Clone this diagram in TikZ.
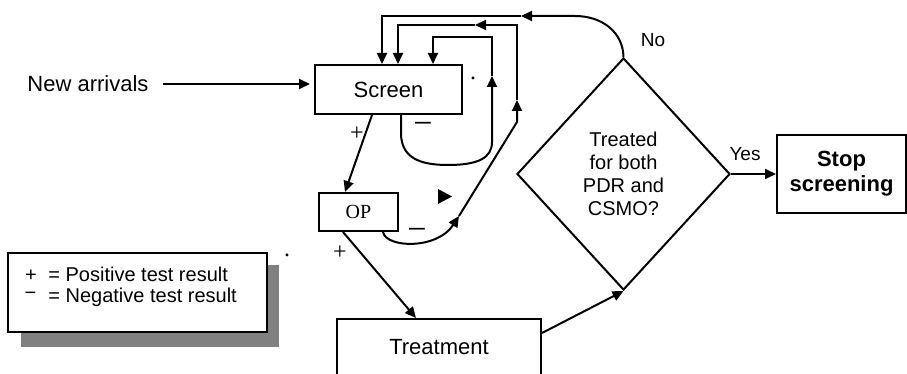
\documentclass[tikz,border=0pt]{standalone}
\usepackage{fontspec}
\setmainfont{Liberation Sans}
\newfontfamily\timesfont{Liberation Serif}
\usetikzlibrary{arrows.meta,calc,positioning,shapes.geometric}
\definecolor{fcInk}{RGB}{0,0,0}
\definecolor{fcShadow}{RGB}{128,128,128}
\tikzset{
  flowbox/.style={draw=fcInk,line width=1pt,fill=white,inner sep=0pt,
    font=\fontsize{11}{13}\selectfont},
  flowline/.style={draw=fcInk,line width=1pt},
  flowarrow/.style={flowline,-{Triangle[length=5.5pt,width=5pt]}},
  flowlabel/.style={inner sep=0pt,font=\fontsize{9.5}{11}\selectfont},
  signmark/.style={inner sep=0pt,font=\timesfont\fontsize{12}{13}\selectfont},
  minusmark/.style={inner sep=0pt,anchor=base,font=\timesfont\fontsize{17}{17}\selectfont},
  keytext/.style={inner sep=0pt,font=\fontsize{10}{12}\selectfont}
}

\begin{document}
\begin{tikzpicture}[x=0.5pt,y=-0.5pt]
  \useasboundingbox (0,0) rectangle (907,374);

  % boxes
  \node[flowbox,minimum width=73.5pt,minimum height=24.5pt] (screen) at (388.5,89.5) {Screen};
  \node[flowbox,minimum width=39.5pt,minimum height=19pt,
    font=\timesfont\fontsize{10}{12}\selectfont] (op) at (358.5,212) {OP};
  \node[flowbox,minimum width=102pt,minimum height=28.5pt] (treat) at (439,347.5) {Treatment};
  \node[flowbox,diamond,minimum width=106.5pt,minimum height=116pt,align=center,
    font=\fontsize{10}{11.5}\selectfont] (treated) at (623.5,174) {Treated\\for both\\PDR and\\CSMO?};
  \node[flowbox,minimum width=64.5pt,minimum height=39pt,align=center,
    font=\bfseries\fontsize{11}{12.5}\selectfont] (stop) at (841.5,174) {Stop\\screening};

  % labels
  \node[inner sep=0pt,font=\fontsize{11}{13}\selectfont] (arrivals) at (88,84) {New arrivals};
  \node[flowlabel] (no) at (653,40) {No};
  \node[flowlabel] (yes) at (745,154) {Yes};
  \node[signmark] (plusA) at (357,134) {+};
  \node[signmark] (plusB) at (340,253) {+};
  \node[minusmark] (minusA) at (423,135) {−};
  \node[minusmark] (minusB) at (417,241) {−};
  \node[signmark] (dotA) at (473,78) {.};
  \node[signmark] (dotB) at (287,255) {.};

  % key
  \fill[fcShadow] (21,265) rectangle (279,347);
  \node[flowbox,line width=1.2pt,minimum width=129.5pt,minimum height=39.5pt] (legend) at (137.5,292.5) {};
  \node[keytext,anchor=base] (keyplus) at (31,282) {+};
  \node[keytext,anchor=base west] (keypos) at (48,282) {= Positive test result};
  \node[keytext,anchor=base] (keyminus) at (30.5,300) {−};
  \node[keytext,anchor=base west] (keyneg) at (48,303) {= Negative test result};

  % turning points
  \coordinate (screenloop) at (492,76);
  \coordinate (opturn) at (459,216);
  \coordinate (oploop) at (517,100);
  \coordinate (midturn) at (475,25);
  \coordinate (outerturn) at (521,16);

  % connectors
  \draw[flowarrow,shorten <=7pt,shorten >=2pt] (arrivals.east) -- (arrivals.east -| screen.west);
  \draw[flowarrow] ([xshift=-8.25pt]screen.south) -- ([xshift=-6.75pt]op.north);
  \draw[flowarrow] ([xshift=-7.75pt]op.south) -- ([xshift=-11.5pt]treat.north);

  % negative screen loops back
  \draw[flowarrow] ([xshift=6.25pt]screen.south) -- (401,133)
    .. controls (401,158) and (420,165) .. (448,165)
    .. controls (478,165) and (492,158) .. (492,142) -- (screenloop);
  \draw[flowarrow] (screenloop) -- (492,37) -- (433,37) -- ([xshift=22.25pt]screen.north);

  % negative OP loops back
  \draw[flowarrow] ([xshift=12.25pt]op.south) .. controls (386,248) and (437,250) .. (opturn);
  \draw[flowarrow] (opturn) -- (517,122) -- (oploop);
  \draw[flowarrow] (oploop) -- (517,25) -- (midturn);
  \draw[flowarrow] (midturn) -- (398,25) -- ([xshift=4.75pt]screen.north);
  \fill[fcInk] (438,189) -- (452,196.5) -- (438,204) -- cycle;

  % decision
  \draw[flowarrow] ([yshift=7.25pt]treat.east) -- (treated.south);
  \draw[flowarrow] (treated.east) -- (stop.west);
  \draw[flowarrow] (treated.north) .. controls (623,32) and (602,16) .. (575,16) -- (outerturn);
  \draw[flowarrow] (outerturn) -- (382,16) -- ([xshift=-3.25pt]screen.north);
\end{tikzpicture}
\end{document}
